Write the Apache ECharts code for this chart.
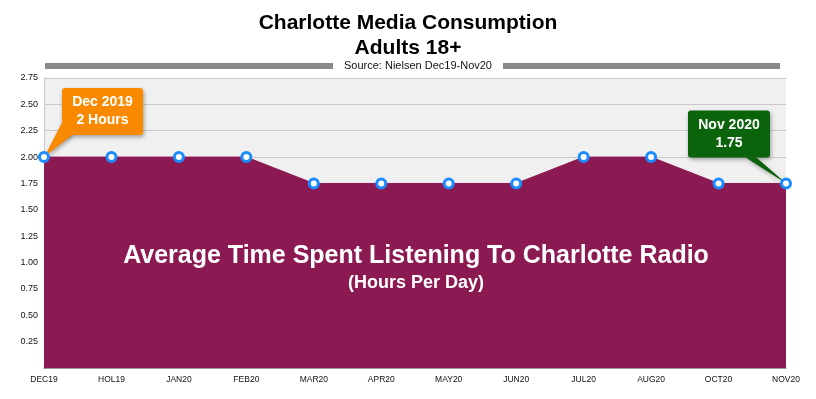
<!DOCTYPE html>
<html><head><meta charset="utf-8">
<script src="https://cdn.jsdelivr.net/npm/echarts@6/dist/echarts.min.js"></script>
<style>html,body{margin:0;padding:0;background:#fff}#c{width:816px;height:399px}</style>
</head><body><div id="c"></div>
<script>
const categories = ['DEC19','HOL19','JAN20','FEB20','MAR20','APR20','MAY20','JUN20','JUL20','AUG20','OCT20','NOV20'];
const hours = [2, 2, 2, 2, 1.75, 1.75, 1.75, 1.75, 2, 2, 1.75, 1.75];
const titleLines = ['Charlotte Media Consumption', 'Adults 18+'];
const sourceText = 'Source: Nielsen Dec19-Nov20';
const centerText = ['Average Time Spent Listening To Charlotte Radio', '(Hours Per Day)'];
const firstCallout = ['Dec 2019', '2 Hours'];
const lastCallout = ['Nov 2020', '1.75'];

const FONT = '"Liberation Sans", Arial, Helvetica, sans-serif';
const chart = echarts.init(document.getElementById('c'));
chart.setOption({
  backgroundColor: '#fff',
  animation: false,
  title: [
    {text: titleLines[0], left: 'center', top: 8, textStyle: {fontFamily: FONT, fontSize: 21, fontWeight: 'bold', color: '#000'}},
    {text: titleLines[1], left: 'center', top: 33, textStyle: {fontFamily: FONT, fontSize: 21, fontWeight: 'bold', color: '#000'}}
  ],
  grid: {left: 44, right: 30, top: 78, bottom: 31, show: true, backgroundColor: '#f0f0f0', borderWidth: 0},
  xAxis: {
    type: 'category', data: categories, boundaryGap: false,
    axisLine: {lineStyle: {color: '#888', width: 1.5}},
    axisTick: {show: false},
    axisLabel: {fontFamily: FONT, fontSize: 8.5, color: '#111', margin: 7, interval: 0}
  },
  yAxis: {
    type: 'value', min: 0, max: 2.75, interval: 0.25,
    axisLine: {show: true, lineStyle: {color: '#c8c8c8'}},
    axisTick: {show: false},
    splitLine: {lineStyle: {color: '#c8c8c8', width: 1}},
    axisLabel: {fontFamily: FONT, fontSize: 9, color: '#111', margin: 6,
      formatter: v => v === 0 ? '' : v.toFixed(2)}
  },
  series: [{
    type: 'line', data: hours,
    symbol: 'circle', symbolSize: 9,
    lineStyle: {color: '#8c1a52', width: 1},
    areaStyle: {color: '#8c1a52', opacity: 1},
    itemStyle: {color: '#fff', borderColor: '#1a8cff', borderWidth: 3},
    z: 3
  }]
});

const p0 = chart.convertToPixel({seriesIndex: 0}, [0, hours[0]]);
const pN = chart.convertToPixel({seriesIndex: 0}, [hours.length - 1, hours[hours.length - 1]]);

const shadow = {shadowBlur: 4, shadowColor: 'rgba(0,0,0,0.35)', shadowOffsetX: 1, shadowOffsetY: 2};
const b1 = {x: p0[0] + 18, y: p0[1] - 69, w: 81, h: 47};
const b2 = {x: pN[0] - 98, y: pN[1] - 73, w: 82, h: 47};
const plotCx = (p0[0] + pN[0]) / 2;
const yTop = chart.convertToPixel({yAxisIndex: 0}, 2.75);

chart.setOption({
  graphic: [
    {type: 'rect', shape: {x: 45, y: yTop - 15, width: 288, height: 6}, style: {fill: '#8a8a8a'}},
    {type: 'rect', shape: {x: 503, y: yTop - 15, width: 277, height: 6}, style: {fill: '#8a8a8a'}},
    {type: 'text', x: 418, y: yTop - 12, style: {text: sourceText, font: '11px ' + FONT, fill: '#111', align: 'center', verticalAlign: 'middle'}},
    {type: 'text', x: plotCx + 1, y: 256, z: 10, style: {text: centerText[0], font: 'bold 25px ' + FONT, fill: '#fff', align: 'center', verticalAlign: 'middle'}},
    {type: 'text', x: plotCx + 1, y: 283, z: 10, style: {text: centerText[1], font: 'bold 18px ' + FONT, fill: '#fff', align: 'center', verticalAlign: 'middle'}},
    {type: 'group', z: 20, children: [
      {type: 'polygon', shape: {points: [[b1.x, b1.y + b1.h - 12], [b1.x + 10, b1.y + b1.h], [p0[0] + 1, p0[1] - 1]]}, style: Object.assign({fill: '#f98a00'}, shadow)},
      {type: 'rect', shape: {x: b1.x, y: b1.y, width: b1.w, height: b1.h, r: 3}, style: Object.assign({fill: '#f98a00'}, shadow)},
      {type: 'polygon', shape: {points: [[b1.x, b1.y + b1.h - 12], [b1.x + 10, b1.y + b1.h], [p0[0] + 1, p0[1] - 1]]}, style: {fill: '#f98a00'}},
      {type: 'text', x: b1.x + b1.w / 2, y: b1.y + 14, style: {text: firstCallout[0], font: 'bold 14px ' + FONT, fill: '#fff', align: 'center', verticalAlign: 'middle'}},
      {type: 'text', x: b1.x + b1.w / 2, y: b1.y + 32, style: {text: firstCallout[1], font: 'bold 14px ' + FONT, fill: '#fff', align: 'center', verticalAlign: 'middle'}}
    ]},
    {type: 'group', z: 20, children: [
      {type: 'polygon', shape: {points: [[b2.x + b2.w - 24, b2.y + b2.h], [b2.x + b2.w - 14, b2.y + b2.h], [pN[0] - 1, pN[1] - 1]]}, style: Object.assign({fill: '#0b640b'}, shadow)},
      {type: 'rect', shape: {x: b2.x, y: b2.y, width: b2.w, height: b2.h, r: 3}, style: Object.assign({fill: '#0b640b'}, shadow)},
      {type: 'polygon', shape: {points: [[b2.x + b2.w - 24, b2.y + b2.h], [b2.x + b2.w - 14, b2.y + b2.h], [pN[0] - 1, pN[1] - 1]]}, style: {fill: '#0b640b'}},
      {type: 'text', x: b2.x + b2.w / 2, y: b2.y + 15, style: {text: lastCallout[0], font: 'bold 14px ' + FONT, fill: '#fff', align: 'center', verticalAlign: 'middle'}},
      {type: 'text', x: b2.x + b2.w / 2, y: b2.y + 33, style: {text: lastCallout[1], font: 'bold 14px ' + FONT, fill: '#fff', align: 'center', verticalAlign: 'middle'}}
    ]}
  ]
});
</script></body></html>
